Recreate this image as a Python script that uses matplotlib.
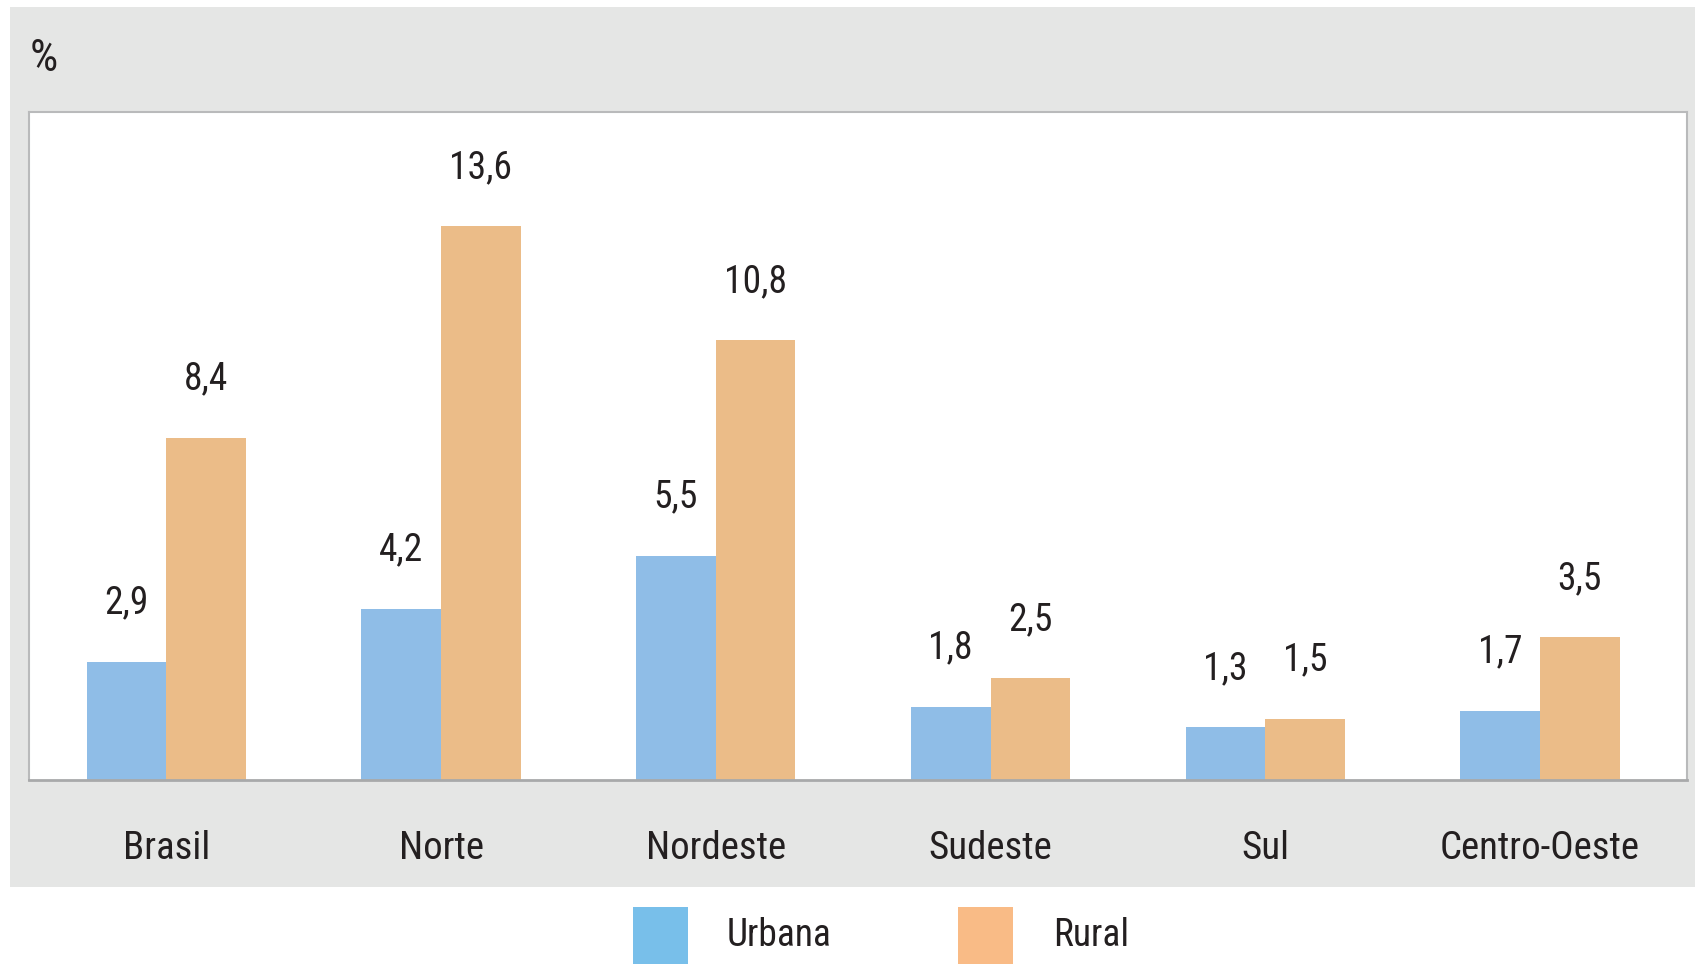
import matplotlib.pyplot as plt
from matplotlib.patches import Rectangle
import numpy as np

# narrow face like the original print; falls back if missing
plt.rcParams['font.family'] = ['Roboto Condensed', 'Archivo Narrow', 'PT Sans Narrow', 'DejaVu Sans']

# data
regioes = ['Brasil', 'Norte', 'Nordeste', 'Sudeste', 'Sul', 'Centro-Oeste']
urbana = [2.9, 4.2, 5.5, 1.8, 1.3, 1.7]
rural = [8.4, 13.6, 10.8, 2.5, 1.5, 3.5]
series_names = ['Urbana', 'Rural']

bar_colors = ['#8fbde7', '#ebbc88']
legend_colors = ['#78bfea', '#f9bb86']

W, H = 1695, 964
fig = plt.figure(figsize=(W / 100, H / 100), dpi=100)
fig.patch.set_facecolor('white')

# gray panel behind the chart
fig.add_artist(Rectangle((10 / W, 1 - 887 / H), 1 - 10 / W, (887 - 7) / H,
                         transform=fig.transFigure, facecolor='#e5e6e5',
                         edgecolor='none', zorder=0))

ax = fig.add_axes([29 / W, 1 - 780 / H, (1687 - 29) / W, (780 - 112) / H])
ax.set_facecolor('white')

x = np.arange(len(regioes))
width = 0.29
b1 = ax.bar(x - width / 2, urbana, width, color=bar_colors[0], label=series_names[0])
b2 = ax.bar(x + width / 2, rural, width, color=bar_colors[1], label=series_names[1])

for bars, vals in [(b1, urbana), (b2, rural)]:
    ax.bar_label(bars, labels=[f'{v:.1f}'.replace('.', ',') for v in vals],
                 padding=29, fontsize=27, color='#231f20')

ax.set_xlim(-0.5, 5.535)
ax.set_ylim(0, 16.4)
ax.set_yticks([])
ax.set_xticks(x)
ax.set_xticklabels(regioes, fontsize=28, color='#231f20')
ax.tick_params(axis='x', length=0, pad=36)

for side in ['top', 'left', 'right']:
    ax.spines[side].set_color('#b9babb')
    ax.spines[side].set_linewidth(1.5)
ax.spines['bottom'].set_color('#a8a9aa')
ax.spines['bottom'].set_linewidth(2)

fig.text(30 / W, 1 - 59 / H, '%', fontsize=32, color='#231f20', va='center', ha='left')

# legend (squares run off the bottom edge, as in the print)
leg_x = [633, 958]
txt_x = [727, 1053]
for name, col, lx, tx in zip(series_names, legend_colors, leg_x, txt_x):
    fig.add_artist(Rectangle((lx / W, 0), 55 / W, (964 - 907) / H,
                             transform=fig.transFigure, facecolor=col, edgecolor='none'))
    fig.text(tx / W, 1 - 936 / H, name, fontsize=27, color='#231f20',
             va='center', ha='left')

plt.savefig('out.png', dpi=100, facecolor='white')
